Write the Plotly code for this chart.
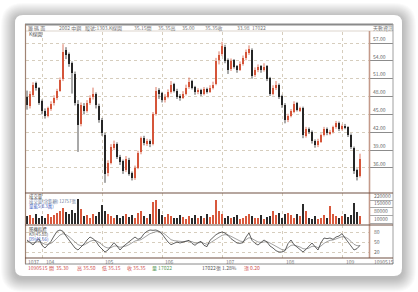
import plotly.graph_objects as go

W, H = 418, 292

# ---------------- data ----------------
opens = [48.0,46.4,48.3,50.2,49.4,47.2,45.6,44.7,45.9,46.9,47.7,49.0,50.9,55.8,55.1,53.6,51.8,46.8,43.4,46.4,
         45.6,47.0,47.9,48.4,46.4,44.1,41.6,35.1,36.9,39.4,40.1,37.9,37.1,35.6,37.4,35.1,34.3,36.0,38.6,41.1,
         40.1,40.6,40.0,45.1,49.1,48.6,47.4,48.0,48.7,50.1,49.0,48.1,47.8,48.4,49.6,50.6,49.6,48.8,49.1,48.4,
         49.3,48.8,49.5,50.1,54.1,55.1,56.4,54.1,52.6,54.1,53.1,52.5,53.4,54.4,55.4,55.9,51.6,52.4,53.1,52.4,
         53.1,51.1,48.5,49.4,50.0,48.1,46.6,44.0,44.8,45.4,46.9,45.7,46.1,41.4,42.6,42.1,40.6,39.8,40.4,41.5,
         42.6,41.8,42.0,42.8,43.6,42.5,43.1,42.9,41.6,39.4,35.6,34.6]
highs = [49.0,48.9,50.4,50.5,49.6,47.5,46.0,46.3,47.2,48.2,49.3,51.2,56.8,56.3,55.4,53.9,52.2,47.4,47.0,46.9,
         47.4,48.2,49.5,48.7,46.8,44.4,41.9,37.3,40.0,40.6,40.3,38.2,37.4,38.0,37.7,35.4,36.4,38.9,41.3,41.4,
         40.9,40.8,45.4,49.6,49.4,48.8,48.4,49.2,50.6,50.3,49.3,48.4,48.9,50.0,51.2,50.8,49.8,49.4,49.3,49.6,
         49.5,49.9,50.5,54.5,55.6,57.2,56.7,54.4,54.4,54.3,53.3,53.9,54.9,55.9,56.6,56.1,52.9,53.4,53.3,53.6,
         53.3,51.3,49.9,50.6,50.2,48.3,46.9,45.1,45.9,47.2,47.1,46.3,46.3,42.9,42.8,42.3,40.8,40.9,41.8,42.9,
         42.8,42.4,43.1,43.9,43.8,43.3,43.4,43.0,41.8,39.6,35.9,38.4]
lows = [45.8,46.0,48.0,49.0,46.6,45.0,44.3,44.5,45.6,46.5,47.4,48.8,50.6,54.3,53.0,48.5,46.5,38.7,43.0,45.0,
        45.3,46.6,47.5,46.0,43.6,41.4,33.5,34.6,36.6,39.0,37.5,36.5,35.0,35.3,34.7,33.9,34.0,35.8,38.3,39.8,
        39.7,39.5,39.8,44.8,47.6,47.0,47.0,47.7,48.5,48.7,47.6,47.3,47.6,48.2,49.3,49.2,48.3,48.4,48.1,48.2,
        48.5,48.6,49.2,49.9,53.4,54.8,53.6,51.8,52.3,52.7,52.0,52.3,53.2,54.1,55.0,51.0,51.3,52.1,52.0,52.2,
        50.6,48.1,48.2,49.1,47.6,46.1,43.5,43.7,44.5,45.2,45.5,45.4,41.0,41.1,41.7,40.1,39.4,39.5,40.2,41.3,
        41.5,41.5,41.8,42.6,42.2,42.3,42.5,41.2,39.2,35.0,33.9,34.4]
closes = [46.5,48.5,50.0,49.5,47.0,45.5,44.8,46.0,46.8,47.8,49.0,50.8,55.5,55.0,53.5,52.0,47.0,43.2,46.5,45.5,
          47.0,47.8,48.5,46.5,44.0,41.8,35.0,36.8,39.5,40.0,37.8,37.0,35.5,37.5,35.0,34.3,36.0,38.5,41.0,40.2,
          40.5,40.0,45.0,49.0,48.5,47.5,48.0,48.8,50.0,49.0,48.0,47.8,48.5,49.5,50.5,49.5,48.8,49.0,48.5,49.2,
          48.8,49.5,50.0,54.0,55.0,56.5,54.0,52.5,54.0,53.0,52.5,53.5,54.5,55.5,56.0,51.5,52.5,53.0,52.5,53.0,
          51.0,48.5,49.5,50.0,48.0,46.5,44.0,44.8,45.5,46.8,45.8,46.0,41.5,42.5,42.0,40.5,39.8,40.5,41.5,42.5,
          41.8,42.0,42.8,43.5,42.5,43.0,42.8,41.5,39.5,35.5,34.5,37.5]
volumes = [70,85,60,95,55,75,60,90,65,80,100,120,150,110,90,130,100,230,140,70,
           85,60,95,70,110,170,120,90,75,60,85,55,70,95,65,80,60,100,120,75,
           60,90,200,220,140,80,65,90,70,55,60,80,65,50,75,60,85,55,70,60,
           90,65,80,220,120,90,60,70,55,65,80,50,60,75,95,70,55,60,80,50,
           65,70,120,85,100,60,90,105,80,60,95,70,185,120,60,50,70,45,55,80,
           60,165,90,75,60,70,95,65,80,190,110,75]
k_vals = [56,48,41,52,60,40,32,42,52,68,82,86,82,68,55,42,32,26,34,44,
          56,65,60,52,38,28,20,26,36,48,38,26,36,44,50,58,65,58,62,75,
          82,86,85,86,82,74,62,50,42,47,50,47,50,53,55,46,40,48,52,40,
          36,55,65,72,77,80,77,70,60,52,47,46,48,65,77,55,46,41,48,56,
          50,38,32,24,20,20,24,45,56,42,35,26,20,28,38,47,36,26,48,62,
          60,62,58,65,68,75,62,50,35,26,30,40]
d_vals = [52,50,47,49,52,48,43,43,46,53,63,71,75,72,66,58,50,42,39,41,
          46,52,55,54,49,42,35,32,33,38,38,34,35,38,42,47,53,55,57,63,
          69,75,78,81,81,79,73,65,57,54,53,51,51,52,53,51,47,47,49,46,
          43,47,53,59,65,70,72,71,67,62,57,53,51,56,63,60,55,50,49,51,
          51,47,42,36,31,27,26,32,40,41,39,35,30,29,32,37,37,33,38,46,
          51,55,56,59,62,66,65,60,52,43,39,39]
year_tick_idx = [5.33, 25, 45, 65.33, 85.33, 105.33]
year_labels = ["104", "105", "106", "107", "108", "109"]
price_ticks = [36, 39, 42, 45, 48, 51, 54, 57]
vol_ticks = [10000, 80000, 150000, 220000]
kd_ticks = [20, 50, 80]

idx = list(range(len(closes)))
vol_units = [v * 1000 for v in volumes]

# ---------------- helpers ----------------
def PX(x):
    return x / W

def PY(y):
    return 1 - y / H

UP = "#d5553a"
DN = "#262626"
FONT = "Noto Sans CJK TC"
FS = 5
FSL = 4.4

fig = go.Figure()

# candles: wicks (scatter) + bodies (bars), split by direction
up_i = [i for i in idx if closes[i] >= opens[i]]
dn_i = [i for i in idx if closes[i] < opens[i]]
for group, col in ((up_i, UP), (dn_i, DN)):
    wx, wy = [], []
    for i in group:
        wx += [i, i, None]
        wy += [lows[i], highs[i], None]
    fig.add_trace(go.Scatter(x=wx, y=wy, mode="lines", line=dict(color=col, width=0.8),
                             xaxis="x", yaxis="y", showlegend=False, hoverinfo="skip"))
    fig.add_trace(go.Bar(x=group, base=[min(opens[i], closes[i]) for i in group],
                         y=[max(abs(closes[i] - opens[i]), 0.12) for i in group],
                         width=0.55, marker=dict(color=col, line=dict(width=0)),
                         xaxis="x", yaxis="y", showlegend=False, hoverinfo="skip"))

bar_colors = ["#d8583c" if c >= o else "#2a2a2a" for o, c in zip(opens, closes)]
fig.add_trace(go.Bar(x=idx, y=vol_units, marker=dict(color=bar_colors, line=dict(width=0)),
                     width=0.65, xaxis="x2", yaxis="y2", showlegend=False, hoverinfo="skip"))

fig.add_trace(go.Scatter(x=idx, y=d_vals, mode="lines", line=dict(color="#8a8a8a", width=0.8),
                         xaxis="x3", yaxis="y3", showlegend=False, hoverinfo="skip"))
fig.add_trace(go.Scatter(x=idx, y=k_vals, mode="lines", line=dict(color="#3a3a3a", width=0.8),
                         xaxis="x3", yaxis="y3", showlegend=False, hoverinfo="skip"))

GRID = "#d6cdbd"
xdom = [PX(26), PX(369)]
xr = [-0.333, 114]
common_x = dict(domain=xdom, range=xr, tickvals=year_tick_idx, showticklabels=False,
                showgrid=True, gridcolor=GRID, griddash="dot", gridwidth=1,
                zeroline=False, showline=False, ticks="", fixedrange=True)

tickfont = dict(family=FONT, size=FS, color="#666")
fig.update_layout(
    width=W, height=H, margin=dict(l=0, r=0, t=0, b=0),
    paper_bgcolor="white", plot_bgcolor="rgba(0,0,0,0)",
    barmode="overlay", bargap=0, showlegend=False,
    xaxis=dict(anchor="y", **common_x),
    xaxis2=dict(anchor="y2", matches="x", **common_x),
    xaxis3=dict(anchor="y3", matches="x", **common_x),
    yaxis=dict(domain=[PY(193), PY(32)], range=[31.79, 58.85], side="right", anchor="x",
               tickvals=price_ticks, ticktext=["%.2f" % v for v in price_ticks],
               ticks="outside", ticklen=23, tickcolor="#8c8c8c", tickwidth=1,
               ticklabelposition="outside top", ticklabelstandoff=2,
               tickfont=tickfont, showgrid=True, gridcolor=GRID, griddash="dot",
               zeroline=False, showline=False, fixedrange=True),
    yaxis2=dict(domain=[PY(225), PY(193)], range=[-8200, 283900], side="right", anchor="x2",
                tickvals=vol_ticks, ticktext=[str(v) for v in vol_ticks],
                ticks="outside", ticklen=23, tickcolor="#a8a8a8", tickwidth=1,
                ticklabelposition="outside top", ticklabelstandoff=3,
                tickfont=tickfont, showgrid=False, zeroline=False, showline=False, fixedrange=True),
    yaxis3=dict(domain=[PY(258), PY(225)], range=[2, 101], side="right", anchor="x3",
                tickvals=kd_ticks, ticktext=[str(v) for v in kd_ticks], ticks="",
                ticklabelstandoff=4, tickfont=tickfont, showgrid=True, gridcolor=GRID,
                griddash="dot", zeroline=False, showline=False, fixedrange=True),
)

# ---------------- card + shadow ----------------
def rrect(x0, y0, x1, y1, r):
    return (f"M {PX(x0+r)} {PY(y0)} L {PX(x1-r)} {PY(y0)} Q {PX(x1)} {PY(y0)} {PX(x1)} {PY(y0+r)} "
            f"L {PX(x1)} {PY(y1-r)} Q {PX(x1)} {PY(y1)} {PX(x1-r)} {PY(y1)} "
            f"L {PX(x0+r)} {PY(y1)} Q {PX(x0)} {PY(y1)} {PX(x0)} {PY(y1-r)} "
            f"L {PX(x0)} {PY(y0+r)} Q {PX(x0)} {PY(y0)} {PX(x0+r)} {PY(y0)} Z")

shapes = []
for k in range(14, 0, -1):
    shapes.append(dict(type="path", xref="paper", yref="paper", layer="below",
                       path=rrect(15 - k, 15 - k + 2, 402 + k, 276 + k + 2, 8 + k),
                       fillcolor="rgba(0,0,0,0.02)", line=dict(width=0)))
shapes.append(dict(type="path", xref="paper", yref="paper", layer="below",
                   path=rrect(15, 15, 402, 276, 8), fillcolor="white", line=dict(width=0)))

def hline(y, x0, x1, color, w=1, layer="above"):
    shapes.append(dict(type="line", xref="paper", yref="paper", layer=layer,
                       x0=PX(x0), x1=PX(x1), y0=PY(y), y1=PY(y), line=dict(color=color, width=w)))

def vline(x, y0, y1, color, w=1, layer="above"):
    shapes.append(dict(type="line", xref="paper", yref="paper", layer=layer,
                       x0=PX(x), x1=PX(x), y0=PY(y0), y1=PY(y1), line=dict(color=color, width=w)))

hline(24.5, 25, 393, "#8a8a8a", 2)
hline(31, 25, 393, "#ddd5cd", 1)
vline(25.5, 24, 264, "#a08474", 1.2)
vline(369.5, 31, 258, "#c49a8a", 1.6)
vline(393, 24, 264, "#a0a0a0", 1)
for yy in (193, 225, 258):
    hline(yy, 25, 393, "#6e4e40", 1.2)
hline(264, 25, 393, "#8a8a8a", 1)
fig.update_layout(shapes=shapes)

# ---------------- texts ----------------
anns = []
def txt(x, y, s, color="#777", size=FS, anchor="left"):
    anns.append(dict(x=PX(x), y=PY(y), xref="paper", yref="paper", text=s, showarrow=False,
                     xanchor=anchor, yanchor="middle", font=dict(family=FONT, size=size, color=color)))

txt(26, 27.8, "籌 碼 面")
txt(57, 27.8, "2002 中鋼")
txt(83, 27.8, "股號:1303.K線圖")
txt(132, 27.8, "35.15開")
txt(156, 27.8, "35.35高")
txt(180, 27.8, "35.00")
txt(203, 27.8, "35.35收")
txt(235, 27.8, "33.98")
txt(250, 27.8, "17022")
txt(371, 27.8, "天數資訊")
txt(27, 34.5, "K線圖", "#555")
txt(27, 196.3, "成交量", "#444", FSL)
txt(27, 201.3, "成交量(含鉅額) 12757張", "#6a7a9a", FSL)
txt(27, 206.3, "量能5(8.3萬)", "#3a5ac0", FSL)
txt(27, 229.3, "隨機指標", "#444", FSL)
txt(27, 234.3, "K9(45.88)", "#555", FSL)
txt(27, 239.3, "D9(41.56)", "#3a5ac0", FSL)
txt(26, 261, "1037")
for xi, lab in zip(year_tick_idx, year_labels):
    anns.append(dict(x=xi, y=PY(261), xref="x", yref="paper", text=lab, showarrow=False,
                     xanchor="left", yanchor="middle", xshift=1,
                     font=dict(family=FONT, size=FS, color="#777")))
txt(372, 261, "1090515")
txt(26, 267.5, "1090515", "#d05050")
txt(47, 267.5, "開", "#d05050")
txt(54, 267.5, "35.30", "#d05050")
txt(75, 267.5, "高 35.50", "#d05050")
txt(100, 267.5, "低 35.15", "#d05050")
txt(125, 267.5, "收 35.35", "#d05050")
txt(150, 267.5, "量 17022", "#5a9a5a")
txt(200, 267.5, "17022張 1.28%", "#555")
txt(242, 267.5, "漲 0.20", "#d05050")
fig.update_layout(annotations=anns)

fig.write_html("out.html")
